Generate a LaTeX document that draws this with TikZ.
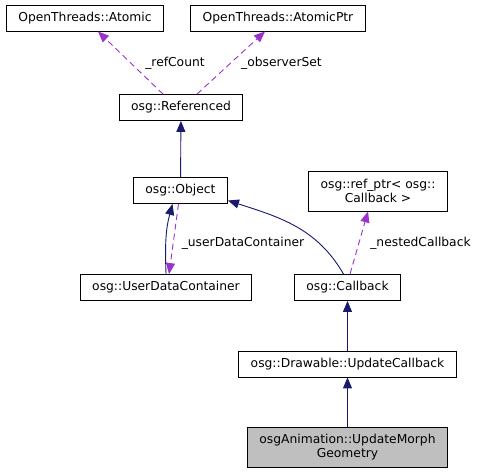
\documentclass[tikz,border=0pt]{standalone}
\usepackage{fontspec}
\setmainfont{DejaVu Sans}
\usetikzlibrary{calc}
\usetikzlibrary{arrows.meta}
\definecolor{azul}{HTML}{191970}
\definecolor{roxo}{HTML}{9A32CD}
\definecolor{cinza}{HTML}{BFBFBF}
\tikzset{box/.style={draw=black,line width=0.9pt,fill=#1,inner xsep=12pt,inner ysep=2pt,
                     minimum height=26pt,align=center,font=\fontsize{12.3}{14}\selectfont},
         box/.default=white}

\begin{document}
\begin{tikzpicture}[x=1pt,y=-1pt,
                    herda/.style={azul,line width=0.9pt,-{Triangle[length=11pt,width=9pt]}},
                    usa/.style={roxo,line width=0.9pt,dash pattern=on 6pt off 4pt,
                                -{Triangle[length=11pt,width=9pt]}},
                    rotulo/.style={font=\fontsize{12.3}{14}\selectfont,inner sep=0pt,anchor=base}]

		\useasboundingbox (0,0) rectangle (480,473);

		% As classes de OpenThreads
		\node [box] (atomic)    at (85,18)  {OpenThreads::Atomic};
		\node [box] (atomicptr) at (278,18) {OpenThreads::AtomicPtr};

		% A classe-base
		\node [box] (referenced) at (181,107.5) {osg::Referenced};

		% O objeto e o ponteiro
		\node [box] (object) at (180.5,190.5) {osg::Object};
		\node [box, minimum height=40pt] (refptr) at (378,191) {osg::ref\_ptr< osg::\\Callback >};

		% O contêiner e o callback
		\node [box] (udc)      at (166,287.5)   {osg::UserDataContainer};
		\node [box] (callback) at (347.5,287.5) {osg::Callback};

		% O callback do Drawable
		\node [box] (drawable) at (347.5,364) {osg::Drawable::UpdateCallback};

		% A classe documentada (em cinza)
		\node [box=cinza, minimum height=40pt] (morph) at (347.5,447) {osgAnimation::UpdateMorph\\Geometry};

		% Flechas de uso (tracejadas)
		\draw [usa] ($(referenced.north)+(-18,0)$) -- ($(atomic.south)+(13,0)$);
		\draw [usa] ($(referenced.north)+(16,0)$) -- ($(atomicptr.south)+(-13,0)$);
		\draw [usa] ($(object.south)+(-2,0)$) -- ($(udc.north)+(3,0)$);
		\draw [usa] ($(callback.north)+(2.5,0)$) -- ($(refptr.south)+(-10,0)$);

		% Flechas de herança
		\draw [herda] (object) -- (referenced);
		\draw [herda] (udc.north) to[out=92,in=-105] ($(object.south)+(-8,0)$);
		\draw [herda] ($(callback.north)+(-4,0)$) to[out=120,in=-18] ($(object.east)+(0,10)$);
		\draw [herda] (drawable) -- (callback);
		\draw [herda] (morph) -- (drawable);

		% Rótulos das flechas de uso
		\node [rotulo] (l refcount)    at (175,67)    {\_refCount};
		\node [rotulo] (l observerset) at (281.5,67)  {\_observerSet};
		\node [rotulo] (l userdata)    at (243,247)   {\_userDataContainer};
		\node [rotulo] (l nested)      at (420.5,247) {\_nestedCallback};

	\end{tikzpicture}
\end{document}
